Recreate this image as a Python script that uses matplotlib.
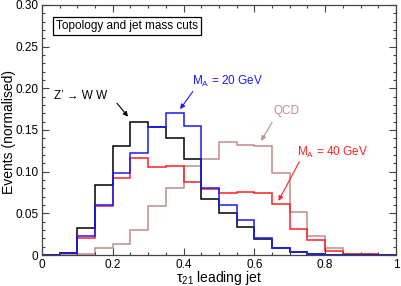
import numpy as np
import matplotlib
matplotlib.use("Agg")
from matplotlib import pyplot as plt
from matplotlib.ticker import MultipleLocator

plt.rcParams['font.family'] = ['Liberation Sans', 'DejaVu Sans']
plt.rcParams['mathtext.fontset'] = 'custom'
plt.rcParams['mathtext.rm'] = 'Liberation Sans'
plt.rcParams['mathtext.it'] = 'Liberation Sans:italic'
plt.rcParams['font.size'] = 8.5

# tau21 bins, width 0.05
bin_edges = np.linspace(0, 1, 21)

zww = [0, 0.003, 0.032, 0.084, 0.131, 0.159, 0.153, 0.140, 0.115, 0.067,
       0.050, 0.034, 0.019, 0.009, 0.004, 0.001, 0, 0, 0, 0]
ma20 = [0, 0.003, 0.023, 0.060, 0.098, 0.122, 0.153, 0.170, 0.155, 0.080,
        0.060, 0.042, 0.020, 0.009, 0.004, 0.001, 0, 0, 0, 0]
ma40 = [0, 0.002, 0.021, 0.059, 0.093, 0.117, 0.106, 0.107, 0.088, 0.079,
        0.075, 0.076, 0.075, 0.061, 0.031, 0.018, 0.005, 0.001, 0.001, 0]
qcd = [0, 0, 0.001, 0.009, 0.013, 0.030, 0.059, 0.081, 0.107, 0.115,
       0.136, 0.132, 0.131, 0.098, 0.052, 0.023, 0.008, 0.001, 0.001, 0]

xticks = [0, 0.2, 0.4, 0.6, 0.8, 1]
xticklabels = ['0', '0.2', '0.4', '0.6', '0.8', '1']
yticks = [0, 0.05, 0.10, 0.15, 0.20, 0.25, 0.30]
yticklabels = ['0', '0.05', '0.10', '0.15', '0.20', '0.25', '0.30']

qcd_col = '#c08c8c'
red_col = '#ff2020'
blue_col = '#1a1aff'

fig = plt.figure(figsize=(4.02, 2.86), dpi=100)
ax = fig.add_axes([0.1045, 0.108, 0.8805, 0.875])

ax.stairs(qcd, bin_edges, color=qcd_col, lw=1.1)
ax.stairs(ma40, bin_edges, color=red_col, lw=1.1)
ax.stairs(zww, bin_edges, color='black', lw=1.1)
ax.stairs(ma20, bin_edges, color=blue_col, lw=1.1)

ax.set_xlim(0, 1)
ax.set_ylim(0, 0.30)
ax.set_xticks(xticks)
ax.set_xticklabels(xticklabels)
ax.set_yticks(yticks)
ax.set_yticklabels(yticklabels)
ax.xaxis.set_minor_locator(MultipleLocator(0.05))
ax.yaxis.set_minor_locator(MultipleLocator(0.01))
ax.tick_params(which='both', direction='in', top=True, right=True, width=0.8, color='#444444')
ax.tick_params(which='major', length=5, labelsize=8.5, pad=2.5)
ax.tick_params(which='minor', length=2.5)
for s in ax.spines.values():
    s.set_linewidth(0.9)
    s.set_color('#444444')

ax.set_xlabel(r'$\mathregular{\tau_{21}}$ leading jet', fontsize=10, va='baseline')
ax.xaxis.set_label_coords(0.5, -0.108)
ax.set_ylabel('Events (normalised)', fontsize=10, va='center')
ax.yaxis.set_label_coords(-0.092, 0.492)

ax.text(0.039, 0.271, 'Topology and jet mass cuts', fontsize=8.5, va='baseline', ha='left',
        bbox=dict(boxstyle='square,pad=0.25', fc='white', ec='black', lw=0.9))

arrow = dict(arrowstyle='-|>', lw=0.8, mutation_scale=7, shrinkA=0, shrinkB=0)

ax.text(0.034, 0.187, 'Z\u2019 \u2192 W W', fontsize=8.5, color='black', va='baseline', ha='left')
ax.annotate('', xy=(0.243, 0.166), xytext=(0.212, 0.182),
            arrowprops=dict(arrow, color='black'))

ax.text(0.423, 0.204, r'M$_{\mathregular{A}}$ = 20 GeV', fontsize=8.5, color=blue_col,
        va='baseline', ha='left')
ax.annotate('', xy=(0.390, 0.175), xytext=(0.426, 0.196),
            arrowprops=dict(arrow, color=blue_col))

ax.text(0.655, 0.169, 'QCD', fontsize=8.5, color=qcd_col, va='baseline', ha='left')
ax.annotate('', xy=(0.619, 0.137), xytext=(0.650, 0.159),
            arrowprops=dict(arrow, color=qcd_col))

ax.text(0.719, 0.119, r'M$_{\mathregular{A}}$ = 40 GeV', fontsize=8.5, color=red_col,
        va='baseline', ha='left')
ax.annotate('', xy=(0.668, 0.065), xytext=(0.727, 0.112),
            arrowprops=dict(arrow, color=red_col))

plt.savefig('out.png', dpi=100)
